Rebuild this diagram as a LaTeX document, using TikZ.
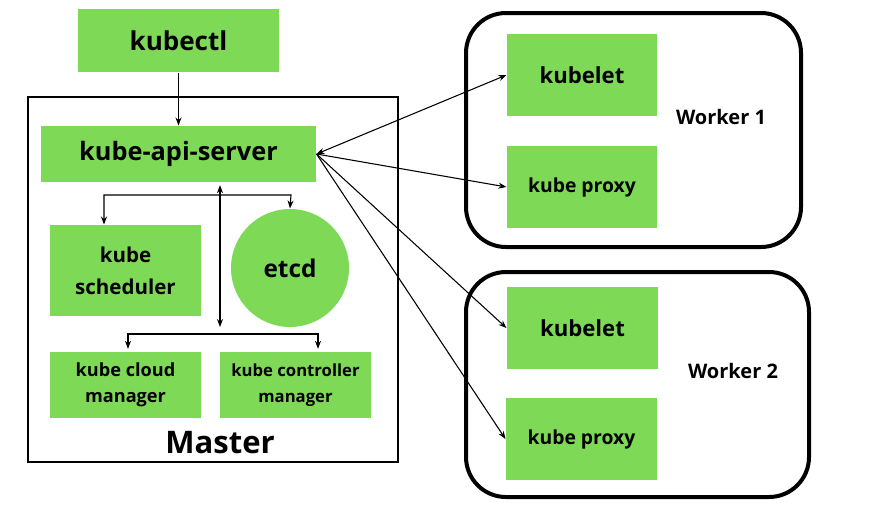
\documentclass[tikz,border=0pt]{standalone}
\usepackage{fontspec}
\setmainfont{Open Sans}
\usetikzlibrary{arrows.meta}

\definecolor{kgreen}{RGB}{126,217,87}
\tikzset{every picture/.style={line width=0.75pt}}
\tikzset{
  gbox/.style={fill=kgreen, draw=none, inner sep=0pt, align=center, font=\bfseries},
  link/.style={-{Stealth[length=6pt,width=4.5pt]}, line width=0.8pt},
  duo/.style={{Stealth[length=6pt,width=4.5pt]}-{Stealth[length=6pt,width=4.5pt]}, line width=0.8pt},
  worker/.style={draw, line width=3pt, rounded corners=30pt},
}

\begin{document}
\begin{tikzpicture}[x=0.75pt,y=0.75pt,yscale=-1,xscale=1]
	\useasboundingbox (0,0) rectangle (896,504);

	%Shape: Rectangle [master]
	\draw [line width=1.1pt] (28,97) rectangle (398,462);
	%Shape: Rounded Rectangle [worker 1]
	\draw [worker] (466,13) rectangle (801,247);
	%Shape: Rounded Rectangle [worker 2]
	\draw [worker] (466,272) rectangle (809,497);

	% Green nodes
	\node [gbox, minimum width=150.75pt, minimum height=47.25pt, font=\bfseries\fontsize{19.5}{22}\selectfont] (kubectl) at (178.5,40.5) {kubectl};
	\node [gbox, minimum width=206.25pt, minimum height=42pt, font=\bfseries\fontsize{19}{22}\selectfont] (api) at (178.5,154) {kube-api-server};
	\node [gbox, minimum width=113.25pt, minimum height=68.25pt, font=\bfseries\fontsize{15.4}{24}\selectfont] (sched) at (125.5,270.5) {kube\\scheduler};
	\node [circle, fill=kgreen, inner sep=0pt, minimum size=88.5pt, font=\bfseries\fontsize{18.3}{22}\selectfont] (etcd) at (290,268) {etcd};
	\node [gbox, minimum width=113.25pt, minimum height=49.5pt, font=\bfseries\fontsize{13.6}{19.5}\selectfont] (cloud) at (125.5,385) {kube cloud\\manager};
	\node [gbox, minimum width=113.25pt, minimum height=49.5pt, font=\bfseries\fontsize{12.5}{19}\selectfont] (ctrl) at (295.5,385) {kube controller\\manager};

	\node [gbox, minimum width=112.5pt, minimum height=61.5pt, font=\bfseries\fontsize{16.6}{20}\selectfont] (kl1) at (582,75) {kubelet};
	\node [gbox, minimum width=112.5pt, minimum height=61.5pt, font=\bfseries\fontsize{14.5}{17}\selectfont] (kp1) at (582,187) {kube proxy};
	\node [gbox, minimum width=113.25pt, minimum height=61.5pt, font=\bfseries\fontsize{16.6}{20}\selectfont] (kl2) at (582.5,328) {kubelet};
	\node [gbox, minimum width=113.25pt, minimum height=61.5pt, font=\bfseries\fontsize{14.5}{17}\selectfont] (kp2) at (581.5,439) {kube proxy};

	% Text Node
	\node [font=\bfseries\fontsize{23.3}{26}\selectfont] (master) at (220,443) {Master};
	% Text Node
	\node [font=\bfseries\fontsize{15}{18}\selectfont] (w1) at (721,117) {Worker 1};
	% Text Node
	\node [font=\bfseries\fontsize{15}{18}\selectfont] (w2) at (733,371) {Worker 2};

	% Connectors
	\coordinate (b1) at (104,195);
	\coordinate (b2) at (291,195);
	\coordinate (c1) at (128,334);
	\coordinate (c2) at (318,334);
	\coordinate (v) at (220,327);

	\draw [link] (kubectl) -- (api);
	\draw [duo] (b1 |- sched.north) -- (b1) -- (b2) -- (etcd.north);
	\draw [duo, shorten <=2pt, shorten >=2pt] (c1 |- cloud.north) -- (c1) -- (c2) -- (c2 |- ctrl.north);
	\draw [duo, shorten <=2pt] (v |- api.south) -- (v);

	\draw [duo] (api.east) -- (kl1.west);
	\draw [link] (api.east) -- (kp1.west);
	\draw [link] (api.east) -- (kl2.west);
	\draw [link] (api.east) -- (kp2.west);

\end{tikzpicture}
\end{document}
